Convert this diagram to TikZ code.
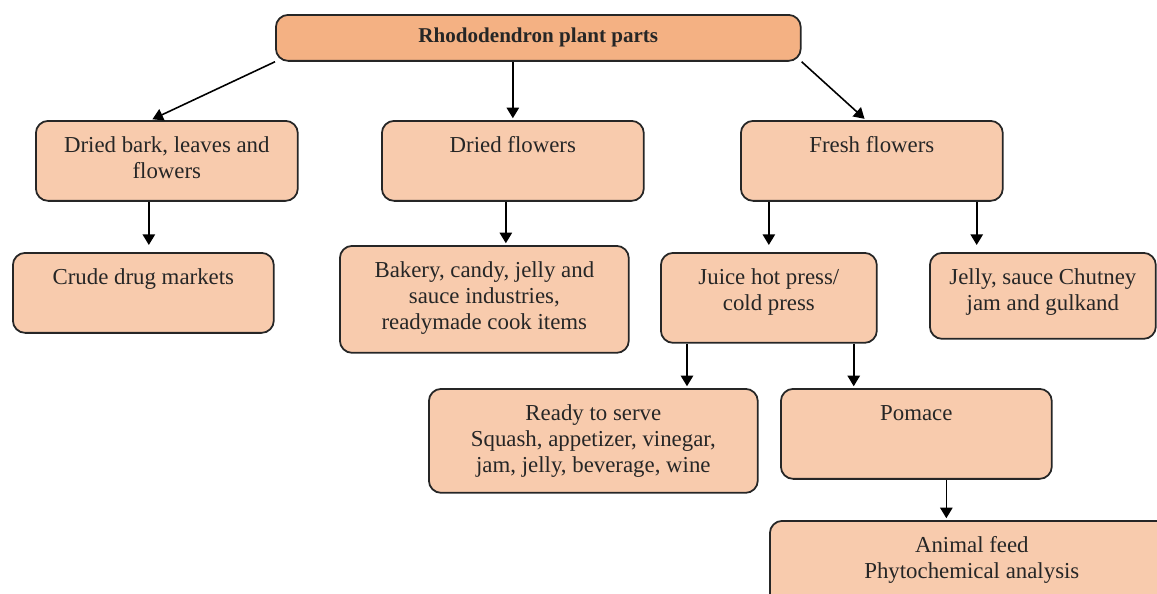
\documentclass[tikz,border=0pt]{standalone}
\usepackage{fontspec}
\setmainfont{Liberation Serif}
\usetikzlibrary{arrows.meta}
\definecolor{rootfill}{HTML}{F4B183}
\definecolor{partfill}{HTML}{F8CBAD}
\newcommand{\parttext}[3]{\parbox[c][#2][t]{#1}{\centering\rule{0pt}{17.8pt}#3}}

\begin{document}
\begin{tikzpicture}[x=0.02cm, y=-0.02cm,
    part/.style={draw=black!85, line width=1pt, fill=partfill, rounded corners=7pt,
        inner sep=0pt, anchor=north west, text=black!85, font=\fontsize{13}{15}\selectfont},
    arr/.style={-{Triangle[length=6pt,width=7pt]}, line width=0.9pt, shorten >=1pt}]
    \useasboundingbox (0,0) rectangle (1157,593);

    % --- Root ---
    \node[part, fill=rootfill, minimum width=10.5cm, minimum height=0.92cm,
        font=\fontsize{12}{14}\selectfont\bfseries] (root) at (275,14) {Rhododendron plant parts};

    % --- First level ---
    \node[part] (dried) at (35,120) {\parttext{5.24cm}{1.6cm}{Dried bark, leaves and\\flowers}};
    \node[part] (dflowers) at (381,120) {\parttext{5.24cm}{1.6cm}{Dried flowers}};
    \node[part] (fresh) at (740,120) {\parttext{5.24cm}{1.6cm}{Fresh flowers}};

    % --- Second level ---
    \node[part] (crude) at (12,252) {\parttext{5.22cm}{1.6cm}{Crude drug markets}};
    \node[part] (bakery) at (339,245) {\parttext{5.78cm}{2.14cm}{Bakery, candy, jelly and\\sauce industries,\\readymade cook items}};
    \node[part] (juice) at (660,252) {\parttext{4.32cm}{1.8cm}{Juice hot press/\\cold press}};
    \node[part] (jelly) at (929,252) {\parttext{4.52cm}{1.72cm}{Jelly, sauce Chutney\\jam and gulkand}};

    % --- Third level ---
    \node[part] (ready) at (428,388) {\parttext{6.58cm}{2.08cm}{Ready to serve\\Squash, appetizer, vinegar,\\jam, jelly, beverage, wine}};
    \node[part] (pomace) at (780,388) {\parttext{5.42cm}{1.8cm}{Pomace}};
    \node[part] (animal) at (769,520) {\parttext{8.08cm}{2cm}{Animal feed\\Phytochemical analysis}};

    % --- Arrows ---
    \draw[arr] (root.south west) -- ([xshift=-0.32cm]dried.north);
    \draw[arr] (root.south -| dflowers.north) -- (dflowers.north);
    \draw[arr] (root.south east) -- ([xshift=-0.12cm]fresh.north);
    \draw[arr, shorten >=4pt] ([xshift=-0.36cm]dried.south) -- ([xshift=-0.36cm]dried.south |- crude.north);
    \draw[arr] ([xshift=-0.14cm]dflowers.south) -- ([xshift=-0.14cm]dflowers.south |- bakery.north);
    \draw[arr, shorten >=4pt] (juice.north |- fresh.south) -- (juice.north);
    \draw[arr, shorten >=4pt] ([xshift=-0.54cm]fresh.south east) -- ([xshift=-0.54cm]fresh.south east |- jelly.north);
    \draw[arr] ([xshift=0.54cm]juice.south west) -- ([xshift=0.54cm]juice.south west |- ready.north);
    \draw[arr] ([xshift=-0.48cm]juice.south east) -- ([xshift=-0.48cm]juice.south east |- pomace.north);
    \draw[arr] ([xshift=0.6cm]pomace.south) -- ([xshift=0.6cm]pomace.south |- animal.north);
\end{tikzpicture}
\end{document}
